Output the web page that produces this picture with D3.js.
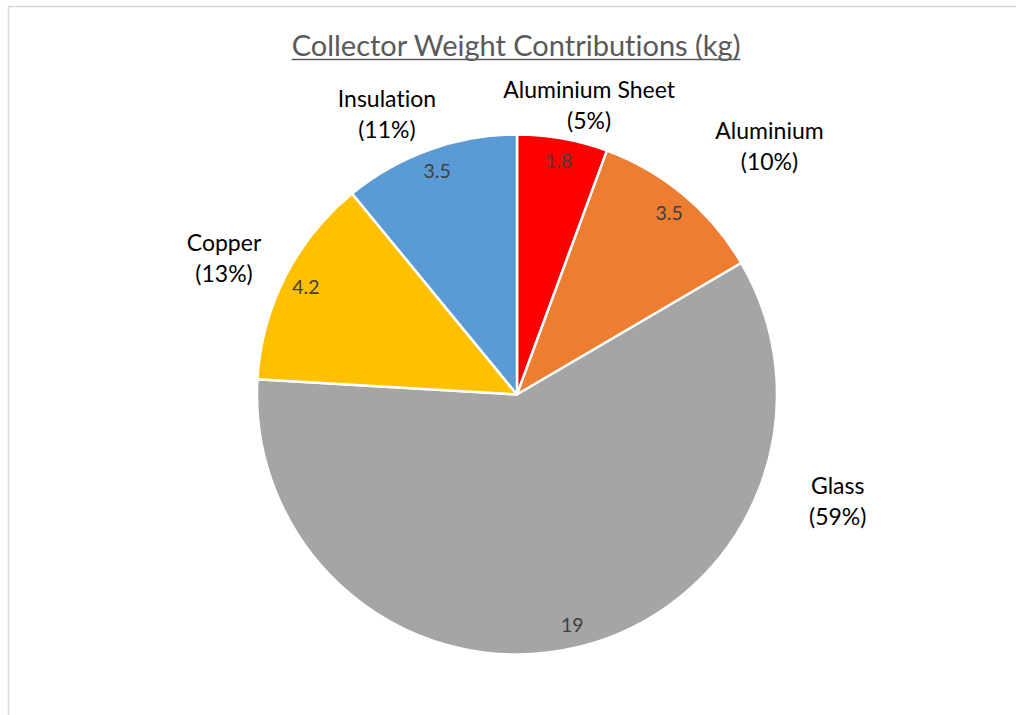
<!DOCTYPE html>
<html>
<head>
<meta charset="utf-8">
<script src="https://cdn.jsdelivr.net/npm/d3@7/dist/d3.min.js"></script>
<style>
  html, body { margin: 0; padding: 0; background: #ffffff; }
  svg { display: block; }
  text { font-variant-ligatures: none; font-feature-settings: "liga" 0; }
</style>
</head>
<body>
<svg id="chart" width="1016" height="715"></svg>
<script>
// Components of the collector, clockwise from 12 o'clock
const categories = ["Aluminium Sheet", "Aluminium", "Glass", "Copper", "Insulation"];
// Weight of each component (kg)
const weights = [1.8, 3.5, 19, 4.2, 3.5];
// Share labels as shown under each category name
const shareLabels = ["5%", "10%", "59%", "13%", "11%"];
const colors = ["#FF0000", "#ED7D31", "#A5A5A5", "#FFC000", "#5B9BD5"];

// Placement of the category labels around the pie (angle in degrees clockwise from top, distance from centre)
const nameLabelAngle = [14.0, 45.5, 108.4, 294.9, 335.1];
const nameLabelRadius = [298, 354, 338, 323, 309];

const width = 1016, height = 715;
const cx = 517, cy = 394.5, radius = 260;
const font = "Lato, 'Open Sans', sans-serif";

const svg = d3.select("#chart");

// chart frame
svg.append("path")
  .attr("d", `M8.5,${height} V6.5 H${width}`)
  .attr("fill", "none")
  .attr("stroke", "#d9d9d9")
  .attr("stroke-width", 1.5);

// title
const title = svg.append("text")
  .attr("x", 516)
  .attr("y", 56)
  .attr("text-anchor", "middle")
  .attr("font-family", font)
  .attr("font-size", 29)
  .attr("fill", "#595959")
  .text("Collector Weight Contributions (kg)");
const tw = title.node().getComputedTextLength();
svg.append("line")
  .attr("x1", 516 - tw / 2).attr("x2", 516 + tw / 2)
  .attr("y1", 59.5).attr("y2", 59.5)
  .attr("stroke", "#595959")
  .attr("stroke-width", 1.5);

const data = categories.map((c, i) => ({ name: c, value: weights[i], share: shareLabels[i], color: colors[i] }));

const pie = d3.pie().sort(null).value(d => d.value);
const arcs = pie(data);

const arc = d3.arc().innerRadius(0).outerRadius(radius);
const valueArc = d3.arc().innerRadius(237).outerRadius(237);

const g = svg.append("g").attr("transform", `translate(${cx},${cy})`);

g.selectAll("path.slice")
  .data(arcs)
  .join("path")
  .attr("class", "slice")
  .attr("d", arc)
  .attr("fill", d => d.data.color)
  .attr("stroke", "#ffffff")
  .attr("stroke-width", 2.5)
  .attr("stroke-linejoin", "round");

// values inside the slices
g.selectAll("text.value")
  .data(arcs)
  .join("text")
  .attr("class", "value")
  .attr("transform", d => `translate(${valueArc.centroid(d)})`)
  .attr("text-anchor", "middle")
  .attr("dy", "0.35em")
  .attr("font-family", font)
  .attr("font-size", 19.5)
  .attr("fill", "#404040")
  .text(d => d3.format("~")(d.data.value));

// category names with their share
const labels = g.selectAll("g.name")
  .data(arcs)
  .join("g")
  .attr("class", "name")
  .attr("transform", (d, i) => {
    const p = d3.pointRadial(nameLabelAngle[i] * Math.PI / 180, nameLabelRadius[i]);
    return `translate(${p})`;
  });

labels.append("text")
  .attr("text-anchor", "middle")
  .attr("y", -15.5)
  .attr("dy", "0.35em")
  .attr("font-family", font)
  .attr("font-size", 23)
  .attr("fill", "#000000")
  .text(d => d.data.name);

labels.append("text")
  .attr("text-anchor", "middle")
  .attr("y", 15.5)
  .attr("dy", "0.35em")
  .attr("font-family", font)
  .attr("font-size", 23)
  .attr("fill", "#000000")
  .text(d => `(${d.data.share})`);
</script>
</body>
</html>
